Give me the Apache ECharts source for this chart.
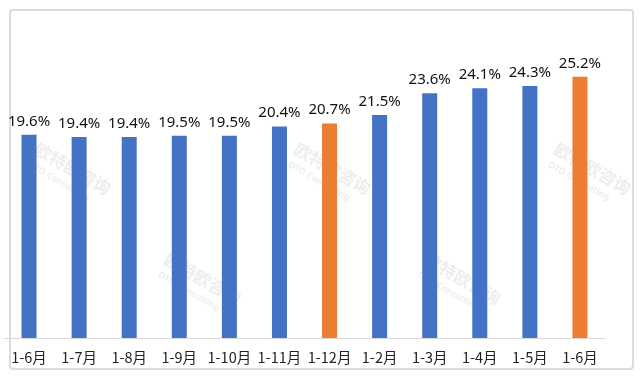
<!DOCTYPE html>
<html>
<head>
<meta charset="utf-8">
<script src="https://cdn.jsdelivr.net/npm/echarts@6/dist/echarts.min.js"></script>
<style>
  html, body { margin: 0; padding: 0; background: #fff; }
  #box { position: absolute; left: 9px; top: 9px; width: 625px; height: 361px; border: 2px solid #dcdcdc; border-radius: 4px; box-sizing: border-box; }
  #chart { width: 640px; height: 376px; }
</style>
</head>
<body>
<div id="box"></div>
<div id="chart"></div>
<script>
const categories = ['1-6月', '1-7月', '1-8月', '1-9月', '1-10月', '1-11月', '1-12月', '1-2月', '1-3月', '1-4月', '1-5月', '1-6月'];
const values = [19.6, 19.4, 19.4, 19.5, 19.5, 20.4, 20.7, 21.5, 23.6, 24.1, 24.3, 25.2];
const highlight = [6, 11]; // orange bars

const blue = '#4472c4';
const orange = '#ed7d31';

const myChart = echarts.init(document.getElementById('chart'));

// watermark
const marks = [[40, 140], [300, 140], [560, 140], [170, 250], [430, 250]];
const graphics = [];
marks.forEach(p => {
  graphics.push({
    type: 'group',
    x: p[0], y: p[1],
    rotation: -Math.PI / 6,
    z: 100,
    children: [
      { type: 'text', x: 0, y: 0, style: { text: '欧特欧咨询', fill: 'rgba(190,190,190,0.28)', font: 'bold 17px "Noto Sans CJK SC"' } },
      { type: 'text', x: 2, y: 22, style: { text: 'OTO Consulting', fill: 'rgba(190,190,190,0.28)', font: 'bold 9px "Noto Sans"' } }
    ]
  });
});

const option = {
  animation: false,
  grid: { left: 4, right: 35, top: 27, bottom: 38 },
  graphic: graphics,
  xAxis: {
    type: 'category',
    data: categories,
    axisTick: { show: false },
    axisLine: { lineStyle: { color: '#d9d9d9', width: 1 } },
    axisLabel: { interval: 0, color: '#222', fontSize: 14.5, margin: 12, fontFamily: '"Noto Sans CJK SC"' }
  },
  yAxis: {
    type: 'value',
    min: 0,
    max: 30,
    show: false
  },
  series: [{
    type: 'bar',
    barWidth: 15,
    data: values.map((v, i) => ({
      value: v,
      itemStyle: { color: highlight.indexOf(i) > -1 ? orange : blue }
    })),
    label: {
      show: true,
      position: 'top',
      distance: 6,
      color: '#111',
      fontSize: 15,
      fontFamily: '"Noto Sans"',
      formatter: p => p.value.toFixed(1) + '%'
    }
  }]
};
myChart.setOption(option);
</script>
</body>
</html>
